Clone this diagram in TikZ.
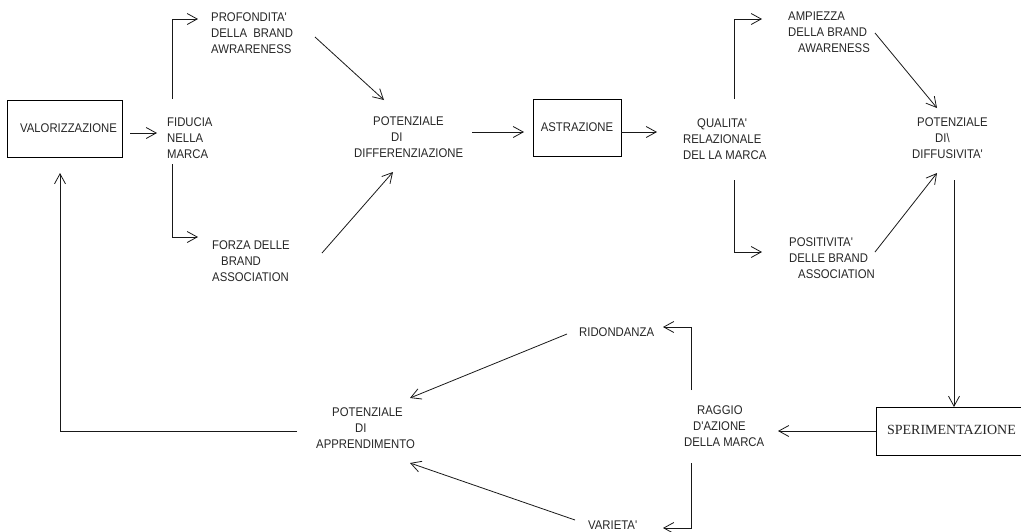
\documentclass[tikz,border=0pt]{standalone}
\usepackage{fontspec}
\usetikzlibrary{arrows.meta}
\newfontfamily\nf[FakeStretch=0.9]{Liberation Sans}
\newfontfamily\serfont{Liberation Serif}
\tikzset{
  lbl/.style={font=\nf\fontsize{12.6}{16}\selectfont, align=left, inner sep=0pt, anchor=north west, text=black!85},
  boxnode/.style={draw, line width=0.9pt, inner sep=0pt, font=\nf\fontsize{12.6}{16}\selectfont, text=black!85},
  conn/.style={line width=0.8pt, draw=black!90},
  arr/.style={conn, -{Straight Barb[length=10pt,width=11pt,line width=0.8pt]}}
}
\begin{document}
\begin{tikzpicture}[x=1pt,y=-1pt]
\useasboundingbox (0,0) rectangle (1021,531);
\clip (0,0) rectangle (1021,531);
% boxes
\node[boxnode, minimum width=115pt, minimum height=57pt] (val) at (64.5,128.5) {\hspace*{8pt}VALORIZZAZIONE};
\node[boxnode, minimum width=88pt, minimum height=57pt] (astr) at (577,127.5) {ASTRAZIONE};
\node[boxnode, minimum width=160pt, minimum height=48pt, anchor=north west, font=\serfont\fontsize{14}{16}\selectfont, text=black!85] (sper) at (876,407) {\hspace*{-10pt}\raisebox{3pt}{SPERIMENTAZIONE}};
% text nodes
\node[lbl] (fid) at (167,117.5) {FIDUCIA\\NELLA\\MARCA};
\node[lbl] (prof) at (211,12.5) {PROFONDITA'\\DELLA\ \ BRAND\\AWRARENESS};
\node[lbl] (forza) at (212,240.5) {FORZA DELLE\\\hspace*{9pt}BRAND\\ASSOCIATION};
\node[lbl] (potdiff) at (354,116.5) {\hspace*{19pt}POTENZIALE\\\hspace*{37pt}DI\\DIFFERENZIAZIONE};
\node[lbl] (qual) at (683,118.5) {\hspace*{14pt}QUALITA'\\RELAZIONALE\\DEL LA MARCA};
\node[lbl] (ampi) at (788,11.5) {AMPIEZZA\\DELLA BRAND\\\hspace*{10pt}AWARENESS};
\node[lbl] (potdiffu) at (912,117.5) {\hspace*{5pt}POTENZIALE\\\hspace*{23pt}DI\textbackslash\\DIFFUSIVITA'};
\node[lbl] (posit) at (789,237.5) {POSITIVITA'\\DELLE BRAND\\\hspace*{9pt}ASSOCIATION};
\node[lbl] (raggio) at (684,405.5) {\hspace*{13pt}RAGGIO\\\hspace*{9pt}D'AZIONE\\DELLA MARCA};
\node[lbl] (ridon) at (579,327.5) {RIDONDANZA};
\node[lbl] (varieta) at (588,520.5) {VARIETA'};
\node[lbl] (potappr) at (316,407.5) {\hspace*{16pt}POTENZIALE\\\hspace*{39pt}DI\\APPRENDIMENTO};
% connector end points
\coordinate (valOut) at (130,133);
\coordinate (fidIn) at (157,133);
\coordinate (fidUp) at (172,99);
\coordinate (fidDown) at (172,164);
\coordinate (profIn) at (198,19);
\coordinate (forzaIn) at (198,237);
\coordinate (profOut) at (315,37);
\coordinate (forzaOut) at (322,253);
\coordinate (potdiffInA) at (384,100);
\coordinate (potdiffInB) at (393,172);
\coordinate (potdiffOut) at (472,132);
\coordinate (astrIn) at (524,132);
\coordinate (qualIn) at (657,132);
\coordinate (qualUp) at (734,99);
\coordinate (qualDown) at (734,180);
\coordinate (ampiIn) at (762,19);
\coordinate (positIn) at (762,252);
\coordinate (ampiOut) at (875,33);
\coordinate (positOut) at (875,252);
\coordinate (potdiffuInA) at (937,108);
\coordinate (potdiffuInB) at (937,173);
\coordinate (potdiffuOut) at (954,180);
\coordinate (raggioIn) at (778,431);
\coordinate (raggioUp) at (691,390);
\coordinate (raggioDown) at (691,463);
\coordinate (ridonIn) at (663,327);
\coordinate (varietaIn) at (663,528);
\coordinate (ridonOut) at (567,334);
\coordinate (varietaOut) at (575,520);
\coordinate (potapprInA) at (410,398);
\coordinate (potapprInB) at (410,463);
\coordinate (potapprOut) at (297,431);
\coordinate (valIn) at (60,173);
% connectors
\draw[arr] (valOut) -- (fidIn);
\draw[arr] (fidUp) |- (profIn);
\draw[arr] (fidDown) |- (forzaIn);
\draw[arr] (profOut) -- (potdiffInA);
\draw[arr] (forzaOut) -- (potdiffInB);
\draw[arr] (potdiffOut) -- (astrIn);
\draw[arr] ([yshift=-4.5pt]astr.east) -- (qualIn);
\draw[arr] (qualUp) |- (ampiIn);
\draw[arr] (qualDown) |- (positIn);
\draw[arr] (ampiOut) -- (potdiffuInA);
\draw[arr] (positOut) -- (potdiffuInB);
\draw[arr] (potdiffuOut) -- (potdiffuOut |- sper.north);
\draw[arr] (sper.west |- raggioIn) -- (raggioIn);
\draw[arr] (raggioUp) |- (ridonIn);
\draw[arr] (raggioDown) |- (varietaIn);
\draw[arr] (ridonOut) -- (potapprInA);
\draw[arr] (varietaOut) -- (potapprInB);
\draw[arr] (potapprOut) -| (valIn);
\end{tikzpicture}
\end{document}
